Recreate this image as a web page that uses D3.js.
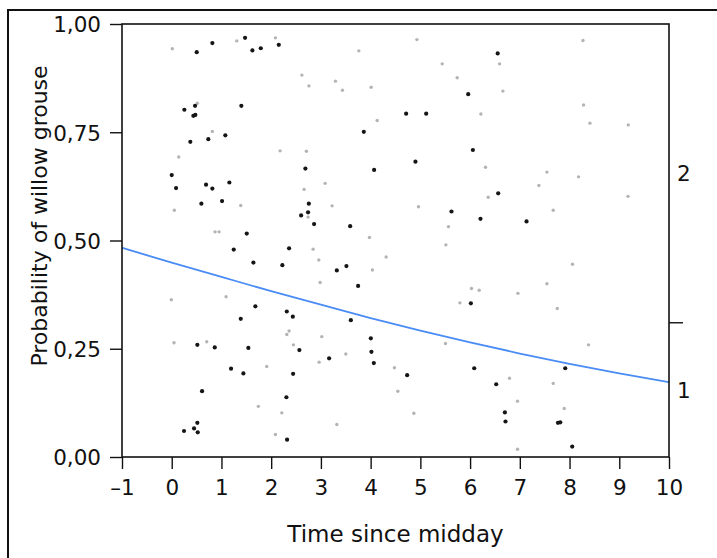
<!DOCTYPE html>
<html>
<head>
<meta charset="utf-8">
<script src="https://cdn.jsdelivr.net/npm/d3@7/dist/d3.min.js"></script>
<style>
  html, body { margin: 0; padding: 0; background: #fff; }
  svg { display: block; }
  text { font-family: "DejaVu Sans", sans-serif; fill: #111; }
</style>
</head>
<body>
<svg id="chart" width="717" height="558"></svg>
<script>
// Observations: hours since midday and plotted probability position
const blackX = [0.503,0.817,1.475,1.622,1.791,2.153,0.254,0.469,0.435,0.475,1.400,1.078,0.374,0.736,6.555,5.962,4.714,5.117,3.863,6.056,4.901,0.000,0.087,0.690,0.817,1.159,0.596,1.012,2.688,2.757,2.602,2.742,1.509,1.247,2.360,1.642,2.225,1.682,4.070,6.565,5.626,6.209,2.863,3.588,3.513,3.320,3.748,6.016,7.135,2.314,2.435,1.388,0.515,0.865,1.541,2.567,1.193,1.441,2.441,0.610,2.306,0.515,0.247,0.449,0.523,2.320,3.602,4.004,4.016,4.064,3.165,4.734,6.083,6.525,7.913,6.700,6.712,7.767,7.813,8.054];
const blackY = [0.935,0.956,0.968,0.939,0.944,0.952,0.802,0.811,0.788,0.790,0.811,0.743,0.728,0.734,0.932,0.838,0.793,0.793,0.751,0.709,0.682,0.651,0.621,0.629,0.620,0.634,0.585,0.591,0.666,0.585,0.558,0.565,0.516,0.479,0.482,0.449,0.443,0.348,0.663,0.609,0.567,0.550,0.538,0.533,0.441,0.431,0.395,0.355,0.544,0.336,0.324,0.319,0.259,0.253,0.252,0.247,0.204,0.193,0.192,0.152,0.138,0.079,0.060,0.066,0.057,0.040,0.316,0.274,0.243,0.217,0.228,0.189,0.205,0.168,0.205,0.103,0.082,0.079,0.080,0.024];
const grayX = [0.012,1.308,2.085,2.618,2.759,0.515,0.817,0.141,2.179,2.708,4.930,3.763,6.592,5.439,5.740,3.292,3.433,4.010,6.217,4.131,8.270,6.660,8.282,8.410,9.181,1.388,0.052,2.662,2.742,0.871,0.952,-0.008,1.093,6.310,3.085,6.364,3.225,4.962,5.565,3.976,5.513,2.843,4.312,2.958,4.036,2.984,6.028,6.183,5.795,7.545,8.181,7.384,9.175,7.672,8.060,7.545,6.962,7.753,2.360,2.314,0.046,0.704,2.447,1.911,1.742,2.213,2.085,3.018,2.964,3.501,4.479,4.547,4.869,3.320,5.505,8.382,6.793,7.672,6.954,7.893,6.954];
const grayY = [0.943,0.961,0.968,0.882,0.857,0.817,0.752,0.693,0.707,0.706,0.964,0.938,0.908,0.908,0.876,0.868,0.847,0.854,0.792,0.777,0.962,0.845,0.813,0.771,0.767,0.581,0.570,0.618,0.554,0.520,0.520,0.363,0.370,0.669,0.632,0.600,0.580,0.578,0.532,0.507,0.490,0.480,0.462,0.455,0.432,0.403,0.389,0.385,0.356,0.658,0.647,0.627,0.602,0.570,0.445,0.400,0.378,0.343,0.291,0.283,0.264,0.266,0.259,0.209,0.117,0.102,0.052,0.278,0.219,0.238,0.206,0.152,0.101,0.075,0.262,0.259,0.182,0.170,0.129,0.112,0.018];

// Fitted logistic curve, probability at each hour
const fitX = [-1,0,1,2,3,4,5,6,7,8,9,10];
const fitP = [0.483,0.449,0.416,0.383,0.352,0.321,0.292,0.265,0.239,0.215,0.193,0.173];

// Axis ticks
const xTicks = [-1,0,1,2,3,4,5,6,7,8,9,10];
const yTicks = [0,0.25,0.5,0.75,1];
const yTickLabels = ["0,00","0,25","0,50","0,75","1,00"];
// Response levels on the right axis, split at the fitted level boundary
const levelLabels = ["1","2"];
const levelSplit = 0.31;

const svg = d3.select("#chart");
const L = 122, R = 669, T = 24, B = 457;
const FS = "21.5px";

const x = d3.scaleLinear().domain([-1, 10]).range([L, R]);
const y = d3.scaleLinear().domain([0, 1]).range([B, T]);

// outer frame
svg.append("rect").attr("x", 8).attr("y", 10).attr("width", 730).attr("height", 580)
  .attr("fill", "none").attr("stroke", "#111").attr("stroke-width", 2);

// points
const pts = svg.append("g");
pts.selectAll("circle.g").data(d3.range(grayX.length)).join("circle")
  .attr("class", "g")
  .attr("cx", i => x(grayX[i])).attr("cy", i => y(grayY[i]))
  .attr("r", 1.7).attr("fill", "#b4b4b4");
pts.selectAll("circle.b").data(d3.range(blackX.length)).join("circle")
  .attr("class", "b")
  .attr("cx", i => x(blackX[i])).attr("cy", i => y(blackY[i]))
  .attr("r", 2.1).attr("fill", "#151515");

// fitted curve
const line = d3.line().x((d, i) => x(fitX[i])).y(d => y(d)).curve(d3.curveMonotoneX);
svg.append("path").attr("d", line(fitP))
  .attr("fill", "none").attr("stroke", "#4a8cf5").attr("stroke-width", 1.8);

// plot box
svg.append("rect").attr("x", L).attr("y", T).attr("width", R - L).attr("height", B - T)
  .attr("fill", "none").attr("stroke", "#111").attr("stroke-width", 1.6);

// bottom axis
const xAxis = svg.append("g").attr("transform", `translate(0,${B})`)
  .call(d3.axisBottom(x).tickValues(xTicks).tickSize(12).tickPadding(11)
    .tickFormat(d => d < 0 ? "\u2013" + Math.abs(d) : d));
// left axis
const yAxis = svg.append("g").attr("transform", `translate(${L},0)`)
  .call(d3.axisLeft(y).tickValues(yTicks).tickSize(12).tickPadding(9)
    .tickFormat((d, i) => yTickLabels[i]));
[xAxis, yAxis].forEach(a => {
  a.select(".domain").remove();
  a.selectAll(".tick line").attr("stroke", "#111").attr("stroke-width", 1.4);
  a.selectAll(".tick text").style("font-size", FS).attr("fill", "#222");
});
yAxis.selectAll(".tick text").attr("dy", "0.36em");

// right axis: response levels
const rAxis = svg.append("g").attr("transform", `translate(${R},0)`);
rAxis.append("line").attr("x1", 0).attr("x2", 14)
  .attr("y1", y(levelSplit)).attr("y2", y(levelSplit))
  .attr("stroke", "#111").attr("stroke-width", 1.4);
rAxis.selectAll("text").data(levelLabels).join("text")
  .attr("x", 8)
  .attr("y", (d, i) => i === 0 ? y(levelSplit / 2) : y((levelSplit + 1) / 2))
  .attr("dy", "0.36em")
  .style("font-size", FS).attr("fill", "#222")
  .text(d => d);

// axis titles
svg.append("text").attr("x", (L + R) / 2).attr("y", 542).attr("text-anchor", "middle")
  .style("font-size", "23px").attr("fill", "#222").text("Time since midday");
svg.append("text").attr("transform", `translate(47,216) rotate(-90)`)
  .attr("text-anchor", "middle")
  .style("font-size", "22px").attr("fill", "#222").text("Probability of willow grouse");
</script>
</body>
</html>
